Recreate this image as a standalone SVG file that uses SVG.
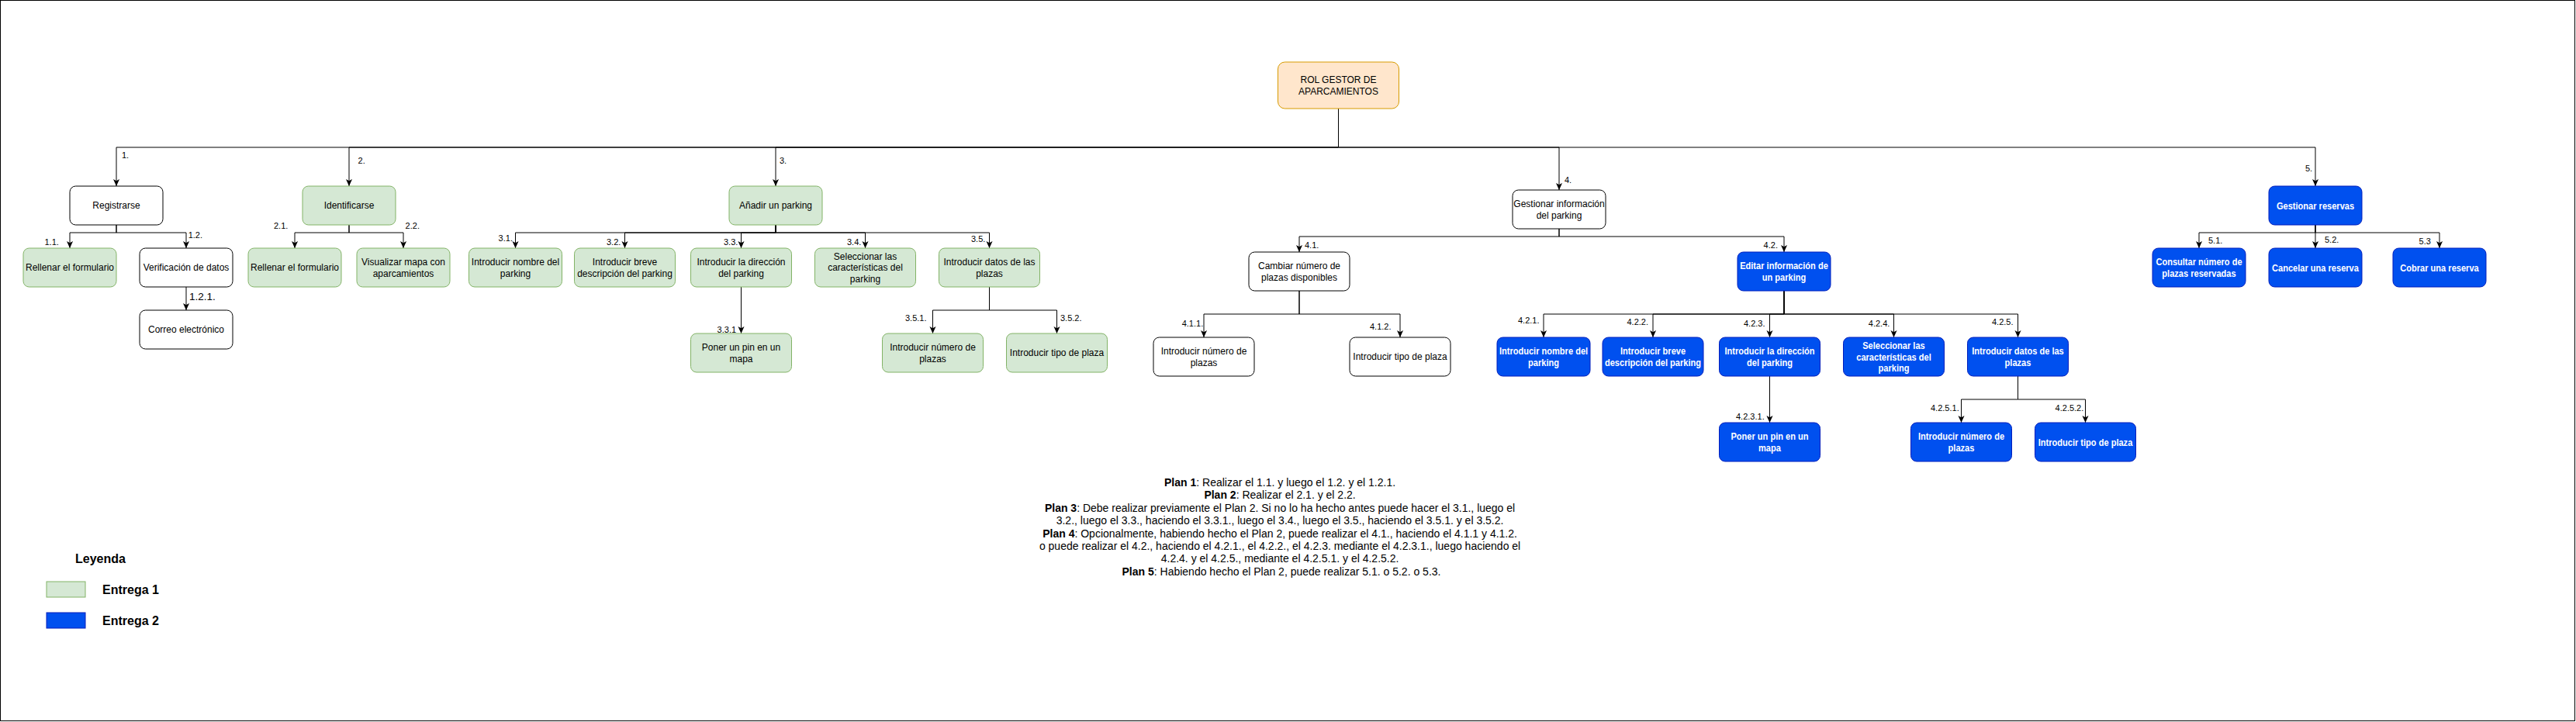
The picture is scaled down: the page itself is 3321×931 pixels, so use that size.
<svg xmlns="http://www.w3.org/2000/svg" width="3321" height="931" viewBox="0 0 3321 931">
<defs>
<style>
.w{fill:#ffffff;stroke:#000000;stroke-width:1}
.g{fill:#d5e8d4;stroke:#82b366;stroke-width:1}
.b{fill:#0050ef;stroke:#001dbc;stroke-width:1}
.o{fill:#ffe6cc;stroke:#d79b00;stroke-width:1}
text{font-family:"Liberation Sans",Arial,Helvetica,sans-serif}
.t{font-size:12px;fill:#000000;text-anchor:middle}
.tb{font-size:13.5px;font-weight:bold;fill:#ffffff;text-anchor:middle}
.l{font-size:11px;fill:#000000}
.e{fill:none;stroke:#000000;stroke-width:1;marker-end:url(#arr)}
.plan{font-size:14px;fill:#000000;text-anchor:middle}
.plan tspan.k{font-weight:bold}
.leg{font-size:16px;font-weight:bold;fill:#000000}
</style>
<marker id="arr" viewBox="0 0 10 10" refX="10" refY="5" markerWidth="9" markerHeight="9" markerUnits="userSpaceOnUse" orient="auto">
<path d="M0,0.5 L10,5 L0,9.5 L2.5,5 z" fill="#000000"/>
</marker>
</defs>
<rect x="0" y="0" width="3321" height="931" fill="#ffffff"/>
<rect x="0.5" y="0.5" width="3319" height="929" fill="none" stroke="#000000" stroke-width="1"/>

<g id="connectors">
<path class="e" d="M1725.5,140 V190 H150 V240"/>
<path class="e" d="M1725.5,140 V190 H450 V240"/>
<path class="e" d="M1725.5,140 V190 H1000 V240"/>
<path class="e" d="M1725.5,140 V190 H2010 V245"/>
<path class="e" d="M1725.5,140 V190 H2985 V240"/>
<path class="e" d="M150,290 V300 H90 V320"/>
<path class="e" d="M150,290 V300 H240 V320"/>
<path class="e" d="M240,370 V400"/>
<path class="e" d="M450,290 V300 H380 V320"/>
<path class="e" d="M450,290 V300 H520 V320"/>
<path class="e" d="M1000,290 V300 H664.5 V320"/>
<path class="e" d="M1000,290 V300 H805.5 V320"/>
<path class="e" d="M1000,290 V300 H955.5 V320"/>
<path class="e" d="M1000,290 V300 H1115.5 V320"/>
<path class="e" d="M1000,290 V300 H1275.5 V320"/>
<path class="e" d="M955.5,370 V430"/>
<path class="e" d="M1275.5,370 V400 H1202.5 V430"/>
<path class="e" d="M1275.5,370 V400 H1362.5 V430"/>
<path class="e" d="M2010,295 V305 H1675 V325"/>
<path class="e" d="M2010,295 V305 H2300 V325"/>
<path class="e" d="M1675,375 V405 H1552 V435"/>
<path class="e" d="M1675,375 V405 H1805 V435"/>
<path class="e" d="M2300,375 V405 H1990 V435"/>
<path class="e" d="M2300,375 V405 H2131 V435"/>
<path class="e" d="M2300,375 V405 H2281.5 V435"/>
<path class="e" d="M2300,375 V405 H2441.5 V435"/>
<path class="e" d="M2300,375 V405 H2601.5 V435"/>
<path class="e" d="M2281.5,485 V545"/>
<path class="e" d="M2601.5,485 V515 H2528.5 V545"/>
<path class="e" d="M2601.5,485 V515 H2688.5 V545"/>
<path class="e" d="M2985,290 V300 H2835 V320"/>
<path class="e" d="M2985,290 V320"/>
<path class="e" d="M2985,290 V300 H3145 V320"/>
</g>

<g id="edge-labels">
<text class="l" x="157" y="204">1.</text>
<text class="l" x="461.6" y="210.5">2.</text>
<text class="l" x="1005" y="210.5">3.</text>
<text class="l" x="2017" y="236">4.</text>
<text class="l" x="2972" y="221">5.</text>
<text class="l" x="57.5" y="315.7">1.1.</text>
<text class="l" x="242.7" y="306.7">1.2.</text>
<text class="l" x="244" y="386.5" style="font-size:13.5px">1.2.1.</text>
<text class="l" x="353" y="295">2.1.</text>
<text class="l" x="522.6" y="295">2.2.</text>
<text class="l" x="642.6" y="311">3.1.</text>
<text class="l" x="782" y="315.7">3.2.</text>
<text class="l" x="933" y="315.7">3.3.</text>
<text class="l" x="1092" y="315.5">3.4.</text>
<text class="l" x="1252" y="312">3.5.</text>
<text class="l" x="924.6" y="429.3">3.3.1</text>
<text class="l" x="1167" y="414.3">3.5.1.</text>
<text class="l" x="1367" y="414">3.5.2.</text>
<text class="l" x="1682" y="320.3">4.1.</text>
<text class="l" x="2273.6" y="320">4.2.</text>
<text class="l" x="1523.7" y="421">4.1.1.</text>
<text class="l" x="1766" y="425">4.1.2.</text>
<text class="l" x="1957" y="417">4.2.1.</text>
<text class="l" x="2097.5" y="419">4.2.2.</text>
<text class="l" x="2248" y="421">4.2.3.</text>
<text class="l" x="2408.8" y="421">4.2.4.</text>
<text class="l" x="2568" y="419">4.2.5.</text>
<text class="l" x="2238" y="540.7">4.2.3.1.</text>
<text class="l" x="2489" y="529.7">4.2.5.1.</text>
<text class="l" x="2649.6" y="529.7">4.2.5.2.</text>
<text class="l" x="2847" y="314">5.1.</text>
<text class="l" x="2997" y="313">5.2.</text>
<text class="l" x="3118.6" y="315">5.3</text>
</g>

<g id="root">
<rect class="o" x="1647.5" y="80" width="156" height="60" rx="9"/>
<text class="t"><tspan x="1725.5" y="106.5">ROL GESTOR DE</tspan><tspan x="1725.5" y="121.5">APARCAMIENTOS</tspan></text>
</g>

<g id="n1">
<rect class="w" x="90" y="240" width="120" height="50" rx="7.5"/>
<text class="t" x="150" y="269">Registrarse</text>
</g>
<g id="n2">
<rect class="g" x="390" y="240" width="120" height="50" rx="7.5"/>
<text class="t" x="450" y="269">Identificarse</text>
</g>
<g id="n3">
<rect class="g" x="940" y="240" width="120" height="50" rx="7.5"/>
<text class="t" x="1000" y="269">Añadir un parking</text>
</g>
<g id="n4">
<rect class="w" x="1950" y="245" width="120" height="50" rx="7.5"/>
<text class="t"><tspan x="2010" y="266.5">Gestionar información</tspan><tspan x="2010" y="281.5">del parking</tspan></text>
</g>
<g id="n5">
<rect class="b" x="2925" y="240" width="120" height="50" rx="7.5"/>
<text class="tb" x="2985" y="269.8" transform="matrix(0.82 0 0 1 537.3 0)">Gestionar reservas</text>
</g>

<g id="n1-1">
<rect class="g" x="30" y="320" width="120" height="50" rx="7.5"/>
<text class="t" x="90" y="349">Rellenar el formulario</text>
</g>
<g id="n1-2">
<rect class="w" x="180" y="320" width="120" height="50" rx="7.5"/>
<text class="t" x="240" y="349">Verificación de datos</text>
</g>
<g id="n1-2-1">
<rect class="w" x="180" y="400" width="120" height="50" rx="7.5"/>
<text class="t" x="240" y="429">Correo electrónico</text>
</g>

<g id="n2-1">
<rect class="g" x="320" y="320" width="120" height="50" rx="7.5"/>
<text class="t" x="380" y="349">Rellenar el formulario</text>
</g>
<g id="n2-2">
<rect class="g" x="460" y="320" width="120" height="50" rx="7.5"/>
<text class="t"><tspan x="520" y="341.5">Visualizar mapa con</tspan><tspan x="520" y="356.5">aparcamientos</tspan></text>
</g>

<g id="n3-1">
<rect class="g" x="604.5" y="320" width="120" height="50" rx="7.5"/>
<text class="t"><tspan x="664.5" y="341.5">Introducir nombre del</tspan><tspan x="664.5" y="356.5">parking</tspan></text>
</g>
<g id="n3-2">
<rect class="g" x="740.5" y="320" width="130" height="50" rx="7.5"/>
<text class="t"><tspan x="805.5" y="341.5">Introducir breve</tspan><tspan x="805.5" y="356.5">descripción del parking</tspan></text>
</g>
<g id="n3-3">
<rect class="g" x="890.5" y="320" width="130" height="50" rx="7.5"/>
<text class="t"><tspan x="955.5" y="341.5">Introducir la dirección</tspan><tspan x="955.5" y="356.5">del parking</tspan></text>
</g>
<g id="n3-4">
<rect class="g" x="1050.5" y="320" width="130" height="50" rx="7.5"/>
<text class="t"><tspan x="1115.5" y="334.5">Seleccionar las</tspan><tspan x="1115.5" y="349">características del</tspan><tspan x="1115.5" y="363.5">parking</tspan></text>
</g>
<g id="n3-5">
<rect class="g" x="1210.5" y="320" width="130" height="50" rx="7.5"/>
<text class="t"><tspan x="1275.5" y="341.5">Introducir datos de las</tspan><tspan x="1275.5" y="356.5">plazas</tspan></text>
</g>
<g id="n3-3-1">
<rect class="g" x="890.5" y="430" width="130" height="50" rx="7.5"/>
<text class="t"><tspan x="955.5" y="451.5">Poner un pin en un</tspan><tspan x="955.5" y="466.5">mapa</tspan></text>
</g>
<g id="n3-5-1">
<rect class="g" x="1137.5" y="430" width="130" height="50" rx="7.5"/>
<text class="t"><tspan x="1202.5" y="451.5">Introducir número de</tspan><tspan x="1202.5" y="466.5">plazas</tspan></text>
</g>
<g id="n3-5-2">
<rect class="g" x="1297.5" y="430" width="130" height="50" rx="7.5"/>
<text class="t" x="1362.5" y="459">Introducir tipo de plaza</text>
</g>

<g id="n4-1">
<rect class="w" x="1610" y="325" width="130" height="50" rx="7.5"/>
<text class="t"><tspan x="1675" y="346.5">Cambiar número de</tspan><tspan x="1675" y="361.5">plazas disponibles</tspan></text>
</g>
<g id="n4-1-1">
<rect class="w" x="1487" y="435" width="130" height="50" rx="7.5"/>
<text class="t"><tspan x="1552" y="456.5">Introducir número de</tspan><tspan x="1552" y="471.5">plazas</tspan></text>
</g>
<g id="n4-1-2">
<rect class="w" x="1740" y="435" width="130" height="50" rx="7.5"/>
<text class="t" x="1805" y="464">Introducir tipo de plaza</text>
</g>
<g id="n4-2">
<rect class="b" x="2240" y="325" width="120" height="50" rx="7.5"/>
<text class="tb" transform="matrix(0.82 0 0 1 414 0)"><tspan x="2300" y="347.4">Editar información de</tspan><tspan x="2300" y="362.4">un parking</tspan></text>
</g>
<g id="n4-2-1">
<rect class="b" x="1930" y="435" width="120" height="50" rx="7.5"/>
<text class="tb" transform="matrix(0.82 0 0 1 358.2 0)"><tspan x="1990" y="457.4">Introducir nombre del</tspan><tspan x="1990" y="472.4">parking</tspan></text>
</g>
<g id="n4-2-2">
<rect class="b" x="2066" y="435" width="130" height="50" rx="7.5"/>
<text class="tb" transform="matrix(0.82 0 0 1 383.58 0)"><tspan x="2131" y="457.4">Introducir breve</tspan><tspan x="2131" y="472.4">descripción del parking</tspan></text>
</g>
<g id="n4-2-3">
<rect class="b" x="2216.5" y="435" width="130" height="50" rx="7.5"/>
<text class="tb" transform="matrix(0.82 0 0 1 410.67 0)"><tspan x="2281.5" y="457.4">Introducir la dirección</tspan><tspan x="2281.5" y="472.4">del parking</tspan></text>
</g>
<g id="n4-2-4">
<rect class="b" x="2376.5" y="435" width="130" height="50" rx="7.5"/>
<text class="tb" transform="matrix(0.82 0 0 1 439.47 0)"><tspan x="2441.5" y="450.4">Seleccionar las</tspan><tspan x="2441.5" y="464.9">características del</tspan><tspan x="2441.5" y="479.4">parking</tspan></text>
</g>
<g id="n4-2-5">
<rect class="b" x="2536.5" y="435" width="130" height="50" rx="7.5"/>
<text class="tb" transform="matrix(0.82 0 0 1 468.27 0)"><tspan x="2601.5" y="457.4">Introducir datos de las</tspan><tspan x="2601.5" y="472.4">plazas</tspan></text>
</g>
<g id="n4-2-3-1">
<rect class="b" x="2216.5" y="545" width="130" height="50" rx="7.5"/>
<text class="tb" transform="matrix(0.82 0 0 1 410.67 0)"><tspan x="2281.5" y="567.4">Poner un pin en un</tspan><tspan x="2281.5" y="582.4">mapa</tspan></text>
</g>
<g id="n4-2-5-1">
<rect class="b" x="2463.5" y="545" width="130" height="50" rx="7.5"/>
<text class="tb" transform="matrix(0.82 0 0 1 455.13 0)"><tspan x="2528.5" y="567.4">Introducir número de</tspan><tspan x="2528.5" y="582.4">plazas</tspan></text>
</g>
<g id="n4-2-5-2">
<rect class="b" x="2623.5" y="545" width="130" height="50" rx="7.5"/>
<text class="tb" x="2688.5" y="574.8" transform="matrix(0.82 0 0 1 483.93 0)">Introducir tipo de plaza</text>
</g>

<g id="n5-1">
<rect class="b" x="2775" y="320" width="120" height="50" rx="7.5"/>
<text class="tb" transform="matrix(0.82 0 0 1 510.3 0)"><tspan x="2835" y="342.4">Consultar número de</tspan><tspan x="2835" y="357.4">plazas reservadas</tspan></text>
</g>
<g id="n5-2">
<rect class="b" x="2925" y="320" width="120" height="50" rx="7.5"/>
<text class="tb" x="2985" y="349.8" transform="matrix(0.82 0 0 1 537.3 0)">Cancelar una reserva</text>
</g>
<g id="n5-3">
<rect class="b" x="3085" y="320" width="120" height="50" rx="7.5"/>
<text class="tb" x="3145" y="349.8" transform="matrix(0.82 0 0 1 566.1 0)">Cobrar una reserva</text>
</g>

<g id="plans">
<text class="plan">
<tspan x="1652" y="627"><tspan class="k">Plan 1</tspan>: Realizar el 1.1. y luego el 1.2. y el 1.2.1.</tspan>
<tspan x="1652" y="643.4"><tspan class="k">Plan 2</tspan>: Realizar el 2.1. y el 2.2.</tspan>
<tspan x="1652" y="659.8"><tspan class="k">Plan 3</tspan>: Debe realizar previamente el Plan 2. Si no lo ha hecho antes puede hacer el 3.1., luego el</tspan>
<tspan x="1652" y="676.2">3.2., luego el 3.3., haciendo el 3.3.1., luego el 3.4., luego el 3.5., haciendo el 3.5.1. y el 3.5.2.</tspan>
<tspan x="1652" y="692.6"><tspan class="k">Plan 4</tspan>: Opcionalmente, habiendo hecho el Plan 2, puede realizar el 4.1., haciendo el 4.1.1 y 4.1.2.</tspan>
<tspan x="1652" y="709">o puede realizar el 4.2., haciendo el 4.2.1., el 4.2.2., el 4.2.3. mediante el 4.2.3.1., luego haciendo el</tspan>
<tspan x="1652" y="725.4">4.2.4. y el 4.2.5., mediante el 4.2.5.1. y el 4.2.5.2.</tspan>
<tspan x="1652" y="741.8"><tspan class="k">Plan 5</tspan>: Habiendo hecho el Plan 2, puede realizar 5.1. o 5.2. o 5.3.</tspan>
</text>
</g>

<g id="legend">
<text class="leg" x="97" y="726">Leyenda</text>
<rect class="g" x="60" y="750" width="50" height="20"/>
<text class="leg" x="132" y="766">Entrega 1</text>
<rect class="b" x="60" y="790" width="50" height="20"/>
<text class="leg" x="132" y="805.5">Entrega 2</text>
</g>
</svg>
